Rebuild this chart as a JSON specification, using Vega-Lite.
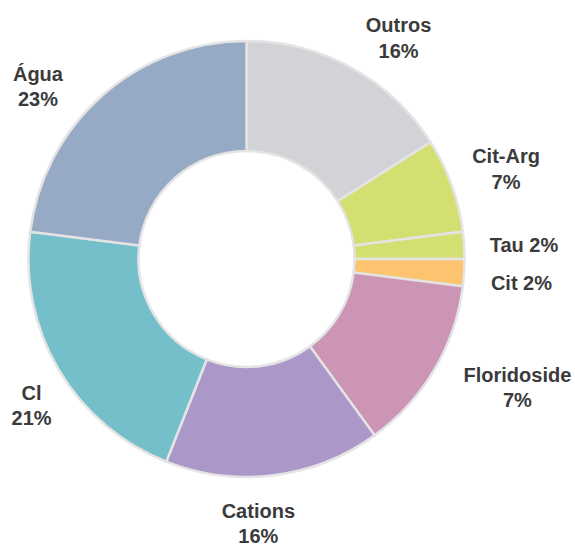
{
  "$schema": "https://vega.github.io/schema/vega-lite/v6.json",
  "width": 493,
  "height": 518,
  "autosize": "none",
  "padding": {"left": 0, "top": 0, "right": 82, "bottom": 26},
  "background": "white",
  "config": {
    "view": {"stroke": null},
    "text": {"font": "Liberation Sans", "fontWeight": "bold", "fontSize": 20, "color": "#3b3b3b", "align": "center", "baseline": "middle", "lineBreak": "\n", "lineHeight": 25.5}
  },
  "data": {
    "values": [
      {"ord": 1, "cat": "Outros", "value": 16, "label": "Outros\n16%"},
      {"ord": 2, "cat": "Cit-Arg", "value": 7, "label": "Cit-Arg\n7%"},
      {"ord": 3, "cat": "Tau", "value": 2, "label": "Tau 2%"},
      {"ord": 4, "cat": "Cit", "value": 2, "label": "Cit 2%"},
      {"ord": 5, "cat": "Floridoside", "value": 13, "label": "Floridoside\n7%"},
      {"ord": 6, "cat": "Cations", "value": 16, "label": "Cations\n16%"},
      {"ord": 7, "cat": "Cl", "value": 21, "label": "Cl\n21%"},
      {"ord": 8, "cat": "Água", "value": 23, "label": "Água\n23%"}
    ]
  },
  "encoding": {
    "theta": {"field": "value", "type": "quantitative", "stack": true},
    "order": {"field": "ord", "type": "quantitative"}
  },
  "layer": [
    {
      "mark": {"type": "arc", "outerRadius": 218, "innerRadius": 108, "stroke": "#e4e4e4", "strokeWidth": 2.5},
      "encoding": {
        "color": {
          "field": "cat", "type": "nominal", "legend": null,
          "scale": {
            "domain": ["Outros", "Cit-Arg", "Tau", "Cit", "Floridoside", "Cations", "Cl", "Água"],
            "range": ["#d1d3d6", "#d4df71", "#d4df71", "#fdc36f", "#cc94b5", "#ab98c9", "#74bfc9", "#96aac6"]
          }
        }
      }
    },
    {
      "mark": {"type": "text", "radius": 270, "dx": 22, "dy": 4},
      "encoding": {"detail": {"field": "cat"}, "text": {"condition": {"test": "datum.cat === 'Outros'", "field": "label"}, "value": ""}}
    },
    {
      "mark": {"type": "text", "radius": 270, "dx": 5.5, "dy": -10.5},
      "encoding": {"detail": {"field": "cat"}, "text": {"condition": {"test": "datum.cat === 'Cit-Arg'", "field": "label"}, "value": ""}}
    },
    {
      "mark": {"type": "text", "radius": 270, "dx": 8, "dy": 4},
      "encoding": {"detail": {"field": "cat"}, "text": {"condition": {"test": "datum.cat === 'Tau'", "field": "label"}, "value": ""}}
    },
    {
      "mark": {"type": "text", "radius": 270, "dx": 5.5, "dy": 8},
      "encoding": {"detail": {"field": "cat"}, "text": {"condition": {"test": "datum.cat === 'Cit'", "field": "label"}, "value": ""}}
    },
    {
      "mark": {"type": "text", "radius": 270, "dx": 38.5, "dy": -20.5},
      "encoding": {"detail": {"field": "cat"}, "text": {"condition": {"test": "datum.cat === 'Floridoside'", "field": "label"}, "value": ""}}
    },
    {
      "mark": {"type": "text", "radius": 270, "dx": -22, "dy": -15},
      "encoding": {"detail": {"field": "cat"}, "text": {"condition": {"test": "datum.cat === 'Cations'", "field": "label"}, "value": ""}}
    },
    {
      "mark": {"type": "text", "radius": 270, "dx": 17.5, "dy": -2.5},
      "encoding": {"detail": {"field": "cat"}, "text": {"condition": {"test": "datum.cat === 'Cl'", "field": "label"}, "value": ""}}
    },
    {
      "mark": {"type": "text", "radius": 270, "dx": -30, "dy": 18.5},
      "encoding": {"detail": {"field": "cat"}, "text": {"condition": {"test": "datum.cat === 'Água'", "field": "label"}, "value": ""}}
    }
  ]
}
